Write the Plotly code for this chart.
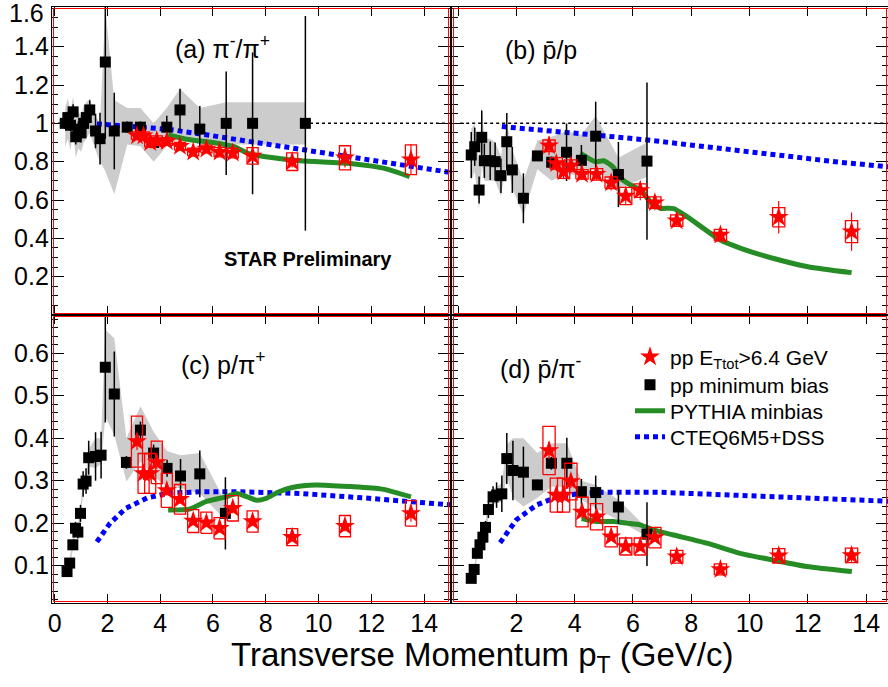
import plotly.graph_objects as go

# ---------------- data ----------------
# red stars (pp E_Ttot > 6.4 GeV), common pT
red_x = [3.12, 3.37, 3.62, 3.87, 4.25, 4.75, 5.25, 5.75, 6.25, 6.75, 7.5, 9.0, 11.0, 13.5]

# (a) pi-/pi+
a_mb_x = [0.4, 0.5, 0.6, 0.7, 0.8, 0.9, 1.0, 1.1, 1.2, 1.33, 1.55, 1.72, 1.92, 2.26, 2.75, 3.25, 3.75, 4.25, 4.75, 5.5, 6.5, 7.5, 9.5]
a_mb_y = [1.00, 1.03, 0.99, 1.06, 0.93, 0.97, 0.95, 1.00, 1.03, 1.07, 0.96, 0.92, 1.32, 0.96, 0.98, 0.98, 0.90, 0.98, 1.07, 0.97, 1.00, 1.00, 1.00]
a_mb_err = [0.03, 0.03, 0.03, 0.04, 0.04, 0.04, 0.05, 0.05, 0.06, 0.05, 0.09, 0.135, 0.40, 0.20, 0.03, 0.03, 0.03, 0.06, 0.11, 0.12, 0.27, 0.37, 0.56]
a_sys_hi = [1.08, 1.13, 1.06, 1.14, 1.02, 1.06, 1.04, 1.09, 1.11, 1.13, 1.04, 1.00, 1.60, 1.12, 1.08, 1.08, 1.00, 1.08, 1.18, 1.08, 1.11, 1.11, 1.11]
a_sys_lo = [0.88, 0.92, 0.86, 0.96, 0.82, 0.87, 0.85, 0.90, 0.92, 0.95, 0.86, 0.80, 0.75, 0.63, 0.89, 0.88, 0.80, 0.88, 0.92, 0.89, 0.89, 0.89, 0.89]
a_red_y = [0.935, 0.935, 0.90, 0.91, 0.905, 0.88, 0.85, 0.866, 0.85, 0.845, 0.83, 0.80, 0.82, 0.81]
a_red_sys = [0.02, 0.02, 0.025, 0.025, 0.02, 0.02, 0.02, 0.02, 0.025, 0.025, 0.043, 0.046, 0.063, 0.078]
a_red_stat = [0.02, 0.02, 0.02, 0.02, 0.015, 0.015, 0.015, 0.015, 0.015, 0.02, 0.03, 0.03, 0.05, 0.08]
a_cteq_x = [1.6, 3.3, 4.3, 5.8, 7.5, 9.5, 11.0, 13.5, 15.0]
a_cteq_y = [0.997, 0.977, 0.969, 0.939, 0.904, 0.861, 0.826, 0.774, 0.744]
a_pyth_x = [4.3, 5.0, 6.0, 6.8, 7.4, 8.0, 9.3, 11.2, 12.5, 13.45]
a_pyth_y = [0.939, 0.917, 0.90, 0.878, 0.84, 0.826, 0.805, 0.791, 0.765, 0.722]

# (b) pbar/p
b_mb_x = [0.45, 0.57, 0.72, 0.81, 0.9, 1.1, 1.27, 1.47, 1.67, 1.86, 2.24, 2.72, 3.21, 3.72, 4.23, 4.72, 5.5, 6.48]
b_mb_y = [0.835, 0.878, 0.652, 0.927, 0.805, 0.805, 0.80, 0.727, 0.904, 0.757, 0.609, 0.83, 0.797, 0.849, 0.807, 0.933, 0.733, 0.803]
b_mb_err = [0.12, 0.10, 0.07, 0.14, 0.09, 0.10, 0.10, 0.09, 0.15, 0.12, 0.13, 0.02, 0.03, 0.15, 0.08, 0.18, 0.17, 0.41]
b_sys_hi = [0.97, 1.00, 0.80, 1.09, 0.92, 0.92, 0.90, 0.83, 1.00, 0.86, 0.70, 0.91, 0.93, 0.96, 0.94, 1.04, 0.82, 0.90]
b_sys_lo = [0.70, 0.75, 0.55, 0.78, 0.70, 0.70, 0.70, 0.62, 0.80, 0.66, 0.52, 0.76, 0.70, 0.74, 0.72, 0.77, 0.66, 0.72]
b_red_y = [0.883, 0.791, 0.748, 0.779, 0.734, 0.734, 0.69, 0.621, 0.649, 0.586, 0.492, 0.417, 0.51, 0.435]
b_red_sys = [0.03, 0.03, 0.035, 0.03, 0.025, 0.03, 0.03, 0.045, 0.035, 0.03, 0.03, 0.03, 0.05, 0.057]
b_red_stat = [0.05, 0.04, 0.04, 0.04, 0.03, 0.03, 0.04, 0.04, 0.05, 0.04, 0.03, 0.03, 0.085, 0.10]
b_cteq_x = [1.5, 3.0, 4.7, 6.5, 8.5, 10.8, 13.1, 15.0]
b_cteq_y = [0.983, 0.965, 0.939, 0.913, 0.878, 0.835, 0.797, 0.77]
b_pyth_x = [4.2, 4.7, 5.0, 5.3, 5.6, 5.9, 6.25, 6.7, 6.95, 7.4, 7.85, 8.5, 9.0, 9.7, 10.8, 12.0, 13.5]
b_pyth_y = [0.843, 0.80, 0.805, 0.774, 0.71, 0.68, 0.652, 0.574, 0.557, 0.555, 0.513, 0.443, 0.391, 0.348, 0.296, 0.252, 0.221]

# (c) p/pi+
c_mb_x = [0.47, 0.57, 0.69, 0.79, 0.88, 0.98, 1.08, 1.19, 1.29, 1.55, 1.76, 1.92, 2.26, 2.72, 3.25, 3.75, 4.26, 4.77, 5.5, 6.47]
c_mb_y = [0.086, 0.106, 0.149, 0.188, 0.179, 0.223, 0.292, 0.299, 0.354, 0.357, 0.36, 0.567, 0.504, 0.343, 0.419, 0.365, 0.329, 0.311, 0.316, 0.223]
c_mb_err = [0.008, 0.01, 0.012, 0.015, 0.015, 0.02, 0.03, 0.03, 0.04, 0.057, 0.055, 0.13, 0.10, 0.015, 0.02, 0.02, 0.02, 0.04, 0.055, 0.085]
c_sys_hi = [0.095, 0.117, 0.162, 0.203, 0.195, 0.24, 0.31, 0.318, 0.375, 0.40, 0.40, 0.655, 0.635, 0.40, 0.475, 0.415, 0.37, 0.36, 0.365, 0.25]
c_sys_lo = [0.077, 0.095, 0.136, 0.173, 0.163, 0.206, 0.274, 0.28, 0.333, 0.33, 0.34, 0.45, 0.408, 0.298, 0.345, 0.31, 0.286, 0.282, 0.27, 0.207]
c_red_y = [0.392, 0.317, 0.317, 0.343, 0.277, 0.256, 0.205, 0.201, 0.188, 0.235, 0.204, 0.167, 0.193, 0.223]
c_red_sys = [0.06, 0.047, 0.047, 0.05, 0.04, 0.035, 0.027, 0.025, 0.025, 0.03, 0.025, 0.02, 0.025, 0.03]
c_red_stat = [0.02, 0.015, 0.015, 0.015, 0.012, 0.01, 0.01, 0.01, 0.01, 0.012, 0.01, 0.01, 0.012, 0.02]
c_cteq_x = [1.6, 2.1, 2.7, 3.5, 4.25, 5.5, 6.8, 9.3, 11.8, 13.7, 15.0]
c_cteq_y = [0.156, 0.20, 0.235, 0.259, 0.27, 0.274, 0.274, 0.27, 0.259, 0.251, 0.243]
c_pyth_x = [4.3, 5.1, 5.75, 6.5, 6.9, 7.3, 7.65, 8.0, 8.5, 9.0, 9.9, 11.2, 12.4, 13.5]
c_pyth_y = [0.231, 0.233, 0.251, 0.262, 0.27, 0.262, 0.254, 0.258, 0.274, 0.284, 0.29, 0.286, 0.28, 0.262]

# (d) pbar/pi-
d_mb_x = [0.45, 0.55, 0.66, 0.75, 0.85, 0.94, 1.04, 1.2, 1.32, 1.5, 1.67, 1.88, 2.24, 2.72, 3.2, 3.73, 4.23, 4.72, 5.5, 6.48]
d_mb_y = [0.07, 0.091, 0.129, 0.149, 0.167, 0.19, 0.232, 0.262, 0.266, 0.269, 0.352, 0.324, 0.32, 0.29, 0.341, 0.341, 0.274, 0.272, 0.238, 0.174]
d_mb_err = [0.006, 0.008, 0.01, 0.012, 0.013, 0.015, 0.02, 0.025, 0.03, 0.043, 0.06, 0.07, 0.06, 0.012, 0.015, 0.06, 0.03, 0.04, 0.04, 0.075]
d_sys_hi = [0.077, 0.099, 0.139, 0.16, 0.18, 0.205, 0.25, 0.28, 0.285, 0.295, 0.385, 0.40, 0.40, 0.365, 0.388, 0.388, 0.30, 0.29, 0.255, 0.188]
d_sys_lo = [0.063, 0.083, 0.119, 0.138, 0.154, 0.175, 0.214, 0.244, 0.247, 0.25, 0.31, 0.26, 0.239, 0.259, 0.286, 0.284, 0.255, 0.235, 0.207, 0.168]
d_red_y = [0.371, 0.266, 0.266, 0.298, 0.226, 0.215, 0.168, 0.145, 0.145, 0.166, 0.121, 0.091, 0.123, 0.124]
d_red_sys = [0.057, 0.04, 0.04, 0.043, 0.035, 0.031, 0.024, 0.02, 0.02, 0.024, 0.015, 0.013, 0.017, 0.017]
d_red_stat = [0.02, 0.015, 0.015, 0.015, 0.015, 0.012, 0.01, 0.01, 0.01, 0.01, 0.008, 0.006, 0.01, 0.015]
d_cteq_x = [1.44, 2.0, 2.7, 3.4, 4.2, 5.1, 6.8, 8.5, 10.8, 13.1, 15.0]
d_cteq_y = [0.154, 0.208, 0.243, 0.262, 0.27, 0.273, 0.273, 0.269, 0.263, 0.257, 0.251]
d_pyth_x = [4.24, 4.76, 5.33, 5.79, 6.24, 6.7, 7.39, 8.53, 9.67, 10.82, 11.96, 13.51]
d_pyth_y = [0.211, 0.204, 0.204, 0.2, 0.196, 0.184, 0.172, 0.153, 0.129, 0.113, 0.098, 0.086]

# ticks
x_ticks_left = [0, 2, 4, 6, 8, 10, 12, 14]
x_ticks_right = [2, 4, 6, 8, 10, 12, 14]
y_ticks_top = [0.2, 0.4, 0.6, 0.8, 1.0, 1.2, 1.4, 1.6]
y_ticks_top_text = ["0.2", "0.4", "0.6", "0.8", "1", "1.2", "1.4", ""]
y_top_edge_label = "1.6"   # drawn nudged down inside the page, like the original
y_ticks_bot = [0.1, 0.2, 0.3, 0.4, 0.5, 0.6]
y_ticks_bot_text = ["0.1", "0.2", "0.3", "0.4", "0.5", "0.6"]

legend_names = ["pp E<sub>Ttot</sub>&gt;6.4 GeV", "pp minimum bias", "PYTHIA minbias", "CTEQ6M5+DSS"]
panel_labels = ["(a) \u03c0<sup>-</sup>/\u03c0<sup>+</sup>", "(b) p\u0304/p",
                "(c) p/\u03c0<sup>+</sup>", "(d) p\u0304/\u03c0<sup>-</sup>"]

# ---------------- layout geometry ----------------
W, H = 888, 687
def px(v): return v / W
def py(v): return 1 - v / H

LX = [px(52), px(450)]
RX = [px(452), 1.0]
TY = [py(315), py(7)]
BY = [py(603), py(315)]

FONT = "Liberation Sans, Arial, Helvetica, sans-serif"
GRAY = "rgb(204,204,204)"
GREEN = "rgb(38,140,38)"
BLUE = "rgb(0,0,255)"
RED = "rgb(255,0,0)"
BOXW = 0.21
LEG_IDS = ["legend", "legend2", "legend3", "legend4"]
LEG_ROWS = [357, 385, 411, 437]

fig = go.Figure()

def add_panel(xa, ya, mbx, mby, mberr, hi, lo, ry, rsys, rstat, cx, cy, pxs, pys, legend):
    # systematic band
    fig.add_trace(go.Scatter(x=list(mbx) + list(mbx)[::-1], y=list(hi) + list(lo)[::-1],
                             fill="toself", fillcolor=GRAY, line=dict(width=0, color=GRAY),
                             mode="lines", hoverinfo="skip", showlegend=False, xaxis=xa, yaxis=ya))
    # CTEQ
    fig.add_trace(go.Scatter(x=cx, y=cy, mode="lines", name=legend_names[3],
                             line=dict(color=BLUE, width=5, dash="5px,4px"),
                             showlegend=legend, legend=LEG_IDS[3], xaxis=xa, yaxis=ya))
    # PYTHIA
    fig.add_trace(go.Scatter(x=pxs, y=pys, mode="lines", name=legend_names[2],
                             line=dict(color=GREEN, width=5, shape="spline", smoothing=0.6),
                             showlegend=legend, legend=LEG_IDS[2], xaxis=xa, yaxis=ya))
    # min bias squares
    fig.add_trace(go.Scatter(x=mbx, y=mby, mode="markers", name=legend_names[1],
                             marker=dict(symbol="square", size=11, color="black"),
                             error_y=dict(type="data", array=mberr, color="black", thickness=1.5, width=0),
                             showlegend=legend, legend=LEG_IDS[1], xaxis=xa, yaxis=ya))
    # red systematic boxes
    bx, by = [], []
    for xv, yv, sv in zip(red_x, ry, rsys):
        bx += [xv - BOXW, xv + BOXW, xv + BOXW, xv - BOXW, xv - BOXW, None]
        by += [yv - sv, yv - sv, yv + sv, yv + sv, yv - sv, None]
    fig.add_trace(go.Scatter(x=bx, y=by, mode="lines", line=dict(color=RED, width=1.3),
                             hoverinfo="skip", showlegend=False, xaxis=xa, yaxis=ya))
    # red stars
    fig.add_trace(go.Scatter(x=red_x, y=ry, mode="markers", name=legend_names[0],
                             marker=dict(symbol="star", size=15, color=RED, line=dict(width=0)),
                             error_y=dict(type="data", array=rstat, color=RED, thickness=1.2, width=0),
                             showlegend=legend, legend=LEG_IDS[0], xaxis=xa, yaxis=ya))

add_panel("x", "y", a_mb_x, a_mb_y, a_mb_err, a_sys_hi, a_sys_lo, a_red_y, a_red_sys, a_red_stat,
          a_cteq_x, a_cteq_y, a_pyth_x, a_pyth_y, False)
add_panel("x2", "y2", b_mb_x, b_mb_y, b_mb_err, b_sys_hi, b_sys_lo, b_red_y, b_red_sys, b_red_stat,
          b_cteq_x, b_cteq_y, b_pyth_x, b_pyth_y, False)
add_panel("x3", "y3", c_mb_x, c_mb_y, c_mb_err, c_sys_hi, c_sys_lo, c_red_y, c_red_sys, c_red_stat,
          c_cteq_x, c_cteq_y, c_pyth_x, c_pyth_y, False)
add_panel("x4", "y4", d_mb_x, d_mb_y, d_mb_err, d_sys_hi, d_sys_lo, d_red_y, d_red_sys, d_red_stat,
          d_cteq_x, d_cteq_y, d_pyth_x, d_pyth_y, True)

axis_common = dict(showline=True, linecolor="black", linewidth=1.3, mirror="allticks",
                   ticks="inside", tickcolor="black", tickwidth=1.2, showgrid=False, zeroline=False,
                   ticklabeloverflow="allow",
                   tickfont=dict(family=FONT, size=25, color="black"))

xl = dict(axis_common, ticklen=9, range=[-0.1, 14.98], tickmode="array")
xr = dict(axis_common, ticklen=9, range=[-0.21, 14.75], tickmode="array")
yt = dict(axis_common, ticklen=12, range=[0, 1.607], tickmode="array", tickvals=y_ticks_top,
          ticktext=y_ticks_top_text,
          minor=dict(ticks="inside", ticklen=6, dtick=0.05, tick0=0, tickcolor="black", tickwidth=1))
yb = dict(axis_common, ticklen=12, range=[0.012, 0.69], tickmode="array", tickvals=y_ticks_bot,
          ticktext=y_ticks_bot_text,
          minor=dict(ticks="inside", ticklen=6, dtick=0.02, tick0=0, tickcolor="black", tickwidth=1))

legends = {}
for lid, row in zip(LEG_IDS, LEG_ROWS):
    legends[lid] = dict(x=px(630), y=py(row), xanchor="left", yanchor="middle",
                        bgcolor="rgba(0,0,0,0)", font=dict(family=FONT, size=21, color="black"),
                        itemwidth=30, tracegroupgap=0)

fig.update_layout(
    width=W, height=H, margin=dict(l=0, r=0, t=0, b=0, autoexpand=False),
    paper_bgcolor="white", plot_bgcolor="white",
    font=dict(family=FONT, color="black"),
    xaxis=dict(xl, domain=LX, anchor="y", tickvals=x_ticks_left, showticklabels=False),
    xaxis2=dict(xr, domain=RX, anchor="y2", tickvals=x_ticks_right + [0], showticklabels=False),
    xaxis3=dict(xl, domain=LX, anchor="y3", tickvals=x_ticks_left, ticklabelstandoff=-2),
    xaxis4=dict(xr, domain=RX, anchor="y4", tickvals=x_ticks_right, ticklabelstandoff=-2),
    yaxis=dict(yt, domain=TY, anchor="x", ticklabelstandoff=-3),
    yaxis2=dict(yt, domain=TY, anchor="x2", showticklabels=False),
    yaxis3=dict(yb, domain=BY, anchor="x3", ticklabelstandoff=-3),
    yaxis4=dict(yb, domain=BY, anchor="x4", showticklabels=False),
    showlegend=True,
    **legends,
)

# top-edge tick label (nudged inside the page as in the original)
fig.add_annotation(text=y_top_edge_label, xref="paper", yref="paper", x=px(46), y=py(13),
                   xanchor="right", yanchor="middle", showarrow=False,
                   font=dict(family=FONT, size=25, color="black"))

# reference lines at unity in the top panels
for xa, ya, x0 in [("x", "y", -0.1), ("x2", "y2", 0.07)]:
    fig.add_shape(type="line", xref=xa, yref=ya, x0=x0, x1=15, y0=1, y1=1,
                  line=dict(color="black", width=1.5, dash="dot"), layer="below")

# red pad borders
for (x0, x1), (y0, y1) in [(LX, TY), (RX, TY), (LX, BY), (RX, BY)]:
    fig.add_shape(type="rect", xref="paper", yref="paper",
                  x0=x0 + 1.5 / W, x1=x1 - 1.5 / W, y0=y0 + 1.5 / H, y1=y1 - 1.5 / H,
                  line=dict(color=RED, width=1), layer="above")

# panel labels
label_pos = [(222, 47), (541, 50), (223, 363), (541, 367)]
for txt, (lx, ly) in zip(panel_labels, label_pos):
    fig.add_annotation(text=txt, xref="paper", yref="paper", x=px(lx), y=py(ly),
                       xanchor="center", yanchor="middle", showarrow=False,
                       font=dict(family=FONT, size=25, color="black"))

fig.add_annotation(text="<b>STAR Preliminary</b>", xref="paper", yref="paper", x=px(308), y=py(259),
                   xanchor="center", yanchor="middle", showarrow=False,
                   font=dict(family=FONT, size=20, color="black"))

fig.add_annotation(text="Transverse Momentum p<sub>T</sub> (GeV/c)", xref="paper", yref="paper",
                   x=px(482), y=py(657), xanchor="center", yanchor="middle", showarrow=False,
                   font=dict(family=FONT, size=33, color="black"))

fig.write_html("out.html", config={"displayModeBar": False},
               post_script="document.body.style.margin='0';document.body.style.padding='0';"
                           "document.documentElement.style.overflow='hidden';")
